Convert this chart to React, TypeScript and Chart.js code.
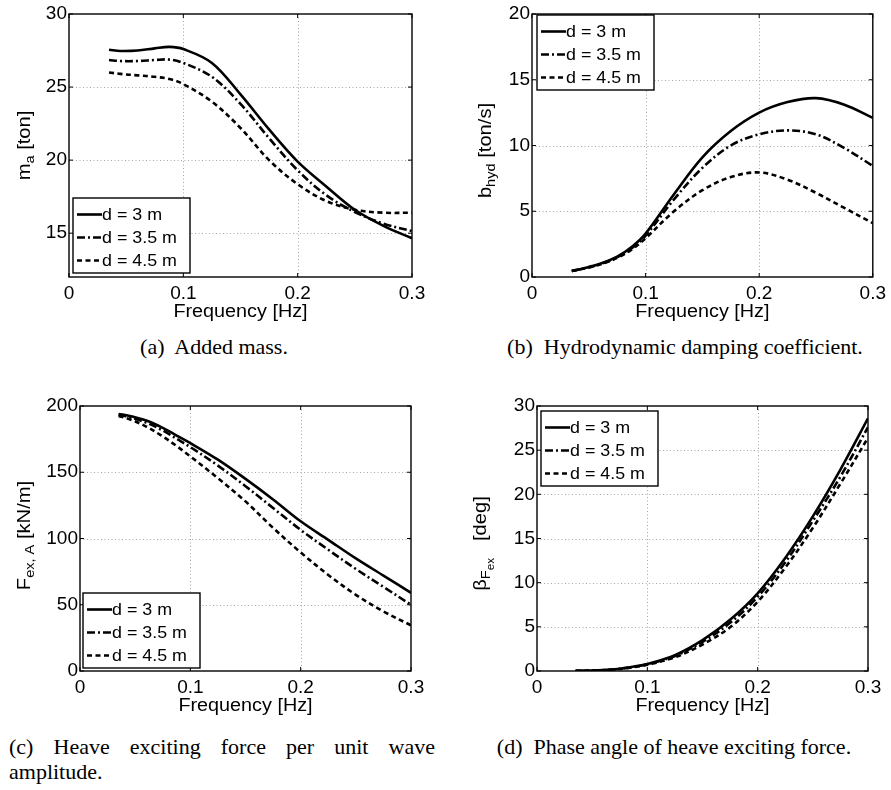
import React, { useEffect, useRef } from "react";
import { Chart, registerables } from "chart.js";

Chart.register(...registerables);

// ---------------- data ----------------
const frequency = [0.035, 0.045, 0.06, 0.075, 0.088, 0.1, 0.125, 0.15, 0.175, 0.2, 0.225, 0.25, 0.275, 0.3];
const seriesNames = ["d = 3 m", "d = 3.5 m", "d = 4.5 m"];
const xTickValues = [0, 0.1, 0.2, 0.3];
const xTickLabels = ["0", "0.1", "0.2", "0.3"];

const addedMassD3 = [27.55, 27.47, 27.5, 27.65, 27.75, 27.6, 26.65, 24.5, 22.1, 19.9, 18.2, 16.6, 15.5, 14.65];
const addedMassD35 = [26.85, 26.78, 26.78, 26.85, 26.88, 26.65, 25.7, 23.85, 21.5, 19.3, 17.6, 16.45, 15.65, 15.15];
const addedMassD45 = [26.0, 25.9, 25.8, 25.7, 25.55, 25.2, 24.0, 22.2, 20.0, 18.35, 17.2, 16.6, 16.4, 16.4];
const addedMassTicks = [15, 20, 25, 30];

const dampingD3 = [0.46, 0.65, 1.0, 1.55, 2.3, 3.3, 6.3, 9.1, 11.1, 12.5, 13.3, 13.6, 13.1, 12.1];
const dampingD35 = [0.46, 0.64, 0.98, 1.5, 2.2, 3.15, 5.9, 8.3, 10.0, 10.85, 11.15, 10.85, 9.8, 8.45];
const dampingD45 = [0.45, 0.62, 0.95, 1.45, 2.1, 2.95, 5.0, 6.6, 7.6, 7.95, 7.4, 6.4, 5.25, 4.1];
const dampingTicks = [0, 5, 10, 15, 20];

const forceD3 = [194, 192.5, 189, 183.5, 177.5, 172, 159.5, 145, 129.5, 113, 99, 85, 72, 59];
const forceD35 = [193.5, 191.5, 187.5, 181.5, 175, 169, 155, 139.5, 123, 106.5, 91.5, 77, 63.5, 50];
const forceD45 = [192.5, 190, 184.5, 177, 169.5, 162, 145.5, 128, 108, 89.5, 72.5, 57.5, 45, 34.5];
const forceTicks = [0, 50, 100, 150, 200];

const phaseD3 = [0.02, 0.04, 0.1, 0.25, 0.5, 0.8, 1.8, 3.5, 5.8, 8.8, 12.8, 17.5, 22.8, 28.6];
const phaseD35 = [0.02, 0.04, 0.1, 0.24, 0.48, 0.76, 1.7, 3.3, 5.45, 8.4, 12.3, 17.0, 22.0, 27.6];
const phaseD45 = [0.02, 0.04, 0.09, 0.22, 0.45, 0.7, 1.55, 3.0, 4.95, 7.85, 11.7, 16.2, 21.2, 26.4];
const phaseTicks = [0, 5, 10, 15, 20, 25, 30];

// ---------------- styles ----------------
const SANS = "'Liberation Sans', Arial, Helvetica, sans-serif";
const SERIF = "'Liberation Serif', 'Times New Roman', Times, serif";
const lineDash: number[][] = [[], [8, 3, 2, 3], [5, 3.5]];
const LINE_W = 2.6;

type Seg = { t: string; lvl?: number };
type PanelCfg = {
  series: number[][];
  yMin: number;
  yMax: number;
  yTicks: number[];
  yTitle: Seg[];
  yTitleOffset: number;
  yTitleShift: number;
  legend: { corner: "tl" | "bl"; dx: number; dy: number };
  canvas: { l: number; t: number; w: number; h: number };
  area: { l: number; t: number; r: number; b: number };
};

function stretchedText(ctx: CanvasRenderingContext2D, text: string, x: number, y: number, font: string, align: CanvasTextAlign, base: CanvasTextBaseline, sx: number) {
  ctx.save();
  ctx.font = font;
  ctx.textAlign = align;
  ctx.textBaseline = base;
  ctx.fillStyle = "#000";
  ctx.translate(x, y);
  ctx.scale(sx, 1);
  ctx.fillText(text, 0, 0);
  ctx.restore();
}

function makePlugin(cfg: PanelCfg) {
  return {
    id: "matlabFrame",
    beforeDatasetsDraw(chart: any) {
      const { ctx, chartArea: a, scales } = chart;
      const xs = scales.x;
      const ys = scales.y;
      ctx.save();
      ctx.strokeStyle = "#a6a6a6";
      ctx.lineWidth = 1;
      ctx.setLineDash([1, 2.5]);
      for (const v of xTickValues) {
        if (v <= xs.min || v >= xs.max) continue;
        const px = Math.round(xs.getPixelForValue(v)) + 0.5;
        ctx.beginPath();
        ctx.moveTo(px, a.top);
        ctx.lineTo(px, a.bottom);
        ctx.stroke();
      }
      for (const v of cfg.yTicks) {
        if (v <= ys.min || v >= ys.max) continue;
        const py = Math.round(ys.getPixelForValue(v)) + 0.5;
        ctx.beginPath();
        ctx.moveTo(a.left, py);
        ctx.lineTo(a.right, py);
        ctx.stroke();
      }
      ctx.restore();
    },
    afterDatasetsDraw(chart: any) {
      const { ctx, chartArea: a, scales } = chart;
      const xs = scales.x;
      const ys = scales.y;
      ctx.save();
      // box
      ctx.strokeStyle = "#000";
      ctx.lineWidth = 1.4;
      ctx.setLineDash([]);
      ctx.strokeRect(a.left, a.top, a.right - a.left, a.bottom - a.top);
      // inward ticks
      ctx.lineWidth = 1;
      const tl = 4;
      for (const v of xTickValues) {
        const px = xs.getPixelForValue(v);
        ctx.beginPath();
        ctx.moveTo(px, a.bottom);
        ctx.lineTo(px, a.bottom - tl);
        ctx.moveTo(px, a.top);
        ctx.lineTo(px, a.top + tl);
        ctx.stroke();
      }
      for (const v of cfg.yTicks) {
        const py = ys.getPixelForValue(v);
        ctx.beginPath();
        ctx.moveTo(a.left, py);
        ctx.lineTo(a.left + tl, py);
        ctx.moveTo(a.right, py);
        ctx.lineTo(a.right - tl, py);
        ctx.stroke();
      }
      // legend
      const lw = 117;
      const lh = 75;
      const lx = a.left + cfg.legend.dx;
      const ly = cfg.legend.corner === "tl" ? a.top + cfg.legend.dy : a.bottom - cfg.legend.dy - lh;
      ctx.fillStyle = "#fff";
      ctx.fillRect(lx, ly, lw, lh);
      ctx.lineWidth = 1.4;
      ctx.strokeStyle = "#000";
      ctx.strokeRect(lx, ly, lw, lh);
      chart.data.datasets.forEach((ds: any, i: number) => {
        const ry = ly + 16.5 + 23 * i;
        ctx.save();
        ctx.lineWidth = LINE_W;
        ctx.strokeStyle = "#000";
        ctx.setLineDash(ds.borderDash || []);
        ctx.beginPath();
        ctx.moveTo(lx + 4, ry);
        ctx.lineTo(lx + 29, ry);
        ctx.stroke();
        ctx.restore();
        stretchedText(ctx, ds.label, lx + 29, ry + 0.5, `17px ${SANS}`, "left", "middle", 1.05);
      });
      // x title
      stretchedText(ctx, "Frequency [Hz]", (a.left + a.right) / 2, a.bottom + 40, `18px ${SANS}`, "center", "alphabetic", 1.1);
      // y title (rotated, with subscripts)
      const sizes = [18, 13, 10.5];
      const dys = [0, 4, 7.5];
      const stretch = 1.12;
      let total = 0;
      const widths = cfg.yTitle.map((s) => {
        ctx.font = `${sizes[s.lvl || 0]}px ${SANS}`;
        const w = ctx.measureText(s.t).width;
        total += w;
        return w;
      });
      ctx.save();
      ctx.translate(a.left - cfg.yTitleOffset, (a.top + a.bottom) / 2 + cfg.yTitleShift);
      ctx.rotate(-Math.PI / 2);
      ctx.scale(stretch, 1);
      ctx.fillStyle = "#000";
      ctx.textAlign = "left";
      ctx.textBaseline = "alphabetic";
      let cx = -total / 2;
      cfg.yTitle.forEach((s, i) => {
        ctx.font = `${sizes[s.lvl || 0]}px ${SANS}`;
        ctx.fillText(s.t, cx, dys[s.lvl || 0]);
        cx += widths[i];
      });
      ctx.restore();
      ctx.restore();
    },
  };
}

function Panel({ cfg }: { cfg: PanelCfg }) {
  const ref = useRef<HTMLCanvasElement>(null);
  useEffect(() => {
    const canvas = ref.current;
    if (!canvas) return;
    const { canvas: g, area } = cfg;
    const chart = new Chart(canvas, {
      type: "line",
      data: {
        datasets: cfg.series.map((vals, i) => ({
          label: seriesNames[i],
          data: frequency.map((f, k) => ({ x: f, y: vals[k] })),
          borderColor: "#000",
          borderWidth: LINE_W,
          borderDash: lineDash[i],
          pointRadius: 0,
          fill: false,
          tension: 0.35,
        })),
      },
      options: {
        responsive: false,
        animation: false,
        devicePixelRatio: 1,
        events: [],
        layout: { padding: { left: 0, top: area.t - g.t, right: g.l + g.w - area.r, bottom: 0 } },
        plugins: { legend: { display: false }, tooltip: { enabled: false } },
        scales: {
          x: {
            type: "linear",
            min: 0,
            max: 0.3,
            afterBuildTicks: (s: any) => {
              s.ticks = xTickValues.map((v) => ({ value: v }));
            },
            afterFit: (s: any) => {
              s.height = g.t + g.h - area.b;
            },
            grid: { display: false, drawTicks: false },
            border: { display: false },
            ticks: {
              padding: 5,
              color: "#000",
              maxRotation: 0,
              autoSkip: false,
              font: { family: SANS, size: 19 },
              callback: (v: any) => {
                const idx = xTickValues.findIndex((t) => Math.abs(t - Number(v)) < 1e-9);
                return idx >= 0 ? xTickLabels[idx] : "";
              },
            },
          },
          y: {
            type: "linear",
            min: cfg.yMin,
            max: cfg.yMax,
            afterBuildTicks: (s: any) => {
              s.ticks = cfg.yTicks.map((v) => ({ value: v }));
            },
            afterFit: (s: any) => {
              s.width = area.l - g.l;
            },
            grid: { display: false, drawTicks: false },
            border: { display: false },
            ticks: {
              padding: 2,
              color: "#000",
              autoSkip: false,
              font: { family: SANS, size: 19 },
              callback: (v: any) => String(v),
            },
          },
        },
      },
      plugins: [makePlugin(cfg)],
    } as any);
    return () => chart.destroy();
  }, [cfg]);
  return (
    <canvas
      ref={ref}
      width={cfg.canvas.w}
      height={cfg.canvas.h}
      style={{ position: "absolute", left: cfg.canvas.l, top: cfg.canvas.t, width: cfg.canvas.w, height: cfg.canvas.h }}
    />
  );
}

const panels: PanelCfg[] = [
  {
    series: [addedMassD3, addedMassD35, addedMassD45],
    yMin: 12,
    yMax: 30,
    yTicks: addedMassTicks,
    yTitle: [{ t: "m" }, { t: "a", lvl: 1 }, { t: " [ton]" }],
    yTitleOffset: 39,
    yTitleShift: 0,
    legend: { corner: "bl", dx: 4, dy: 4 },
    canvas: { l: 0, t: 0, w: 445, h: 330 },
    area: { l: 69, t: 14, r: 412, b: 277 },
  },
  {
    series: [dampingD3, dampingD35, dampingD45],
    yMin: 0,
    yMax: 20,
    yTicks: dampingTicks,
    yTitle: [{ t: "b" }, { t: "hyd", lvl: 1 }, { t: " [ton/s]" }],
    yTitleOffset: 41,
    yTitleShift: 5,
    legend: { corner: "tl", dx: 5, dy: 1 },
    canvas: { l: 445, t: 0, w: 446, h: 330 },
    area: { l: 532, t: 14, r: 876, b: 277 },
  },
  {
    series: [forceD3, forceD35, forceD45],
    yMin: 0,
    yMax: 200,
    yTicks: forceTicks,
    yTitle: [{ t: "F" }, { t: "ex, A", lvl: 1 }, { t: " [kN/m]" }],
    yTitleOffset: 50,
    yTitleShift: -3,
    legend: { corner: "bl", dx: 3, dy: 3 },
    canvas: { l: 0, t: 390, w: 445, h: 330 },
    area: { l: 80, t: 406, r: 411, b: 671 },
  },
  {
    series: [phaseD3, phaseD35, phaseD45],
    yMin: 0,
    yMax: 30,
    yTicks: phaseTicks,
    yTitle: [{ t: "β" }, { t: "F", lvl: 1 }, { t: "ex", lvl: 2 }, { t: "   [deg]" }],
    yTitleOffset: 51,
    yTitleShift: 5,
    legend: { corner: "tl", dx: 4, dy: 5 },
    canvas: { l: 445, t: 390, w: 446, h: 330 },
    area: { l: 537, t: 406, r: 868, b: 671 },
  },
];

const captionStyle: React.CSSProperties = {
  position: "absolute",
  fontFamily: SERIF,
  fontSize: 22,
  lineHeight: "22px",
  color: "#000",
  whiteSpace: "pre",
};

export default function App() {
  return (
    <div style={{ position: "absolute", left: 0, top: 0, width: 891, height: 790, background: "#fff", overflow: "hidden" }}>
      {panels.map((p, i) => (
        <Panel key={i} cfg={p} />
      ))}
      <div style={{ ...captionStyle, left: 14, top: 336, width: 400, textAlign: "center" }}>{"(a)  Added mass."}</div>
      <div style={{ ...captionStyle, left: 485, top: 336, width: 400, textAlign: "center" }}>{"(b)  Hydrodynamic damping coefficient."}</div>
      <div
        style={{
          ...captionStyle,
          whiteSpace: "normal",
          left: 9,
          top: 736,
          width: 426,
          textAlign: "justify",
          textAlignLast: "justify",
        } as React.CSSProperties}
      >
        (c) Heave exciting force per unit wave
      </div>
      <div style={{ ...captionStyle, left: 9, top: 761 }}>{"amplitude."}</div>
      <div style={{ ...captionStyle, left: 474, top: 736, width: 400, textAlign: "center" }}>{"(d)  Phase angle of heave exciting force."}</div>
    </div>
  );
}
